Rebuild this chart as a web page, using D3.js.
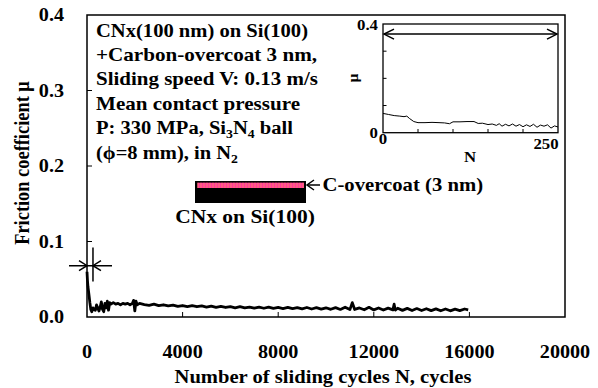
<!DOCTYPE html>
<html><head><meta charset="utf-8">
<script src="https://cdn.jsdelivr.net/npm/d3@7"></script>
<style>
html,body{margin:0;padding:0;background:#fff;}
</style></head>
<body><svg id="c" width="598" height="388" font-family="'Liberation Serif', 'DejaVu Serif', serif" font-weight="bold"></svg>
<script>
// ---- data ----
const xTicks = [0, 4000, 8000, 12000, 16000, 20000];
const yTicks = [0.0, 0.1, 0.2, 0.3, 0.4];
const yTickLabels = ["0.0", "0.1", "0.2", "0.3", "0.4"];
const mainN = [0,20,40,80,120,160,200,250,300,350,400,450,500,550,600,650,700,750,800,850,900,950,1000,
1100,1200,1300,1400,1500,1600,1700,1800,1900,1950,2000,2050,2100,2200,
2400,2600,2800,3000,3200,3400,3600,3800,4000,4200,4400,4600,4800,5000,5200,5400,5600,5800,6000,
6200,6400,6600,6800,7000,7200,7400,7600,7800,8000,8200,8400,8600,8800,9000,9200,9400,9600,9800,10000,
10200,10400,10600,10800,11000,11100,11200,11400,11600,11800,12000,12200,12400,12600,12800,12850,12900,
13000,13200,13400,13600,13800,14000,14200,14400,14600,14800,15000,15200,15400,15600,15800,15950];
const mainMu = [0.060,0.048,0.040,0.030,0.019,0.010,0.007,0.012,0.010,0.009,0.016,0.012,0.008,0.013,0.020,0.010,0.007,0.018,0.012,0.021,0.009,0.019,0.017,
0.019,0.017,0.018,0.016,0.018,0.017,0.018,0.016,0.018,0.022,0.008,0.021,0.016,0.018,
0.0165,0.0155,0.0170,0.0150,0.0162,0.0148,0.0158,0.0140,0.0152,0.0138,0.0150,0.0136,0.0146,0.0130,0.0144,0.0128,0.0140,0.0126,0.0138,
0.0122,0.0136,0.0120,0.0132,0.0118,0.0130,0.0116,0.0132,0.0114,0.0126,0.0112,0.0128,0.0110,0.0125,0.0108,0.0126,0.0106,0.0124,0.0104,0.0122,
0.0102,0.0124,0.0100,0.0130,0.0098,0.0190,0.0100,0.0120,0.0096,0.0128,0.0094,0.0120,0.0092,0.0118,0.0094,0.0170,0.0092,
0.0116,0.0088,0.0114,0.0086,0.0112,0.0086,0.0110,0.0084,0.0108,0.0082,0.0106,0.0082,0.0104,0.0084,0.0106,0.0095];
const insetN = [0,8,16,24,30,34,38,44,50,60,70,80,88,95,100,110,120,130,136,142,150,156,162,166,170,175,180,185,190,195,200,205,210,215,220,225,230,235,240,245,250];
const insetMu = [0.071,0.067,0.063,0.061,0.059,0.061,0.052,0.041,0.037,0.037,0.038,0.037,0.036,0.033,0.040,0.040,0.041,0.041,0.034,0.035,0.030,0.032,0.027,0.033,0.024,0.031,0.025,0.032,0.024,0.030,0.022,0.029,0.023,0.031,0.020,0.028,0.024,0.029,0.017,0.025,0.021];
const insetXTicks = [50,100,150,200];
const insetYTicks = [0.1,0.2,0.3];
const infoLines = ["CNx(100 nm) on Si(100)","+Carbon-overcoat 3 nm,","Sliding speed V: 0.13 m/s","Mean contact pressure"];
// lines with subscripts: [text, isSubscript]
const infoLine5 = [["P: 330 MPa, Si",false],["3",true],["N",false],["4",true],["\u00a0ball",false]];
const infoLine6 = [["(ϕ=8 mm), in N",false],["2",true]];

// ---- main chart ----
const SX = 1.12; // horizontal glyph stretch of the original
const svg = d3.select("#c");
const x = d3.scaleLinear().domain([0,20000]).range([87,565]);
const y = d3.scaleLinear().domain([0,0.4]).range([317,15]);

function htext(px, py, size, anchor, str) {
  const g = svg.append("g").attr("transform", `translate(${px},${py}) scale(${SX},1)`);
  return g.append("text").attr("font-size", size).attr("text-anchor", anchor).text(str);
}

svg.append("rect").attr("x",87).attr("y",15).attr("width",478).attr("height",302)
  .attr("fill","none").attr("stroke","#000").attr("stroke-width",1.5);

const tickLen = 5;
svg.append("g").selectAll("line").data(xTicks.slice(1,-1)).join("line")
  .attr("x1",d=>x(d)).attr("x2",d=>x(d)).attr("y1",317).attr("y2",317-tickLen)
  .attr("stroke","#000").attr("stroke-width",1);
svg.append("g").selectAll("line").data(yTicks.slice(1,-1)).join("line")
  .attr("x1",87).attr("x2",87+tickLen).attr("y1",d=>y(d)).attr("y2",d=>y(d))
  .attr("stroke","#000").attr("stroke-width",1);

svg.append("g").selectAll("g").data(xTicks).join("g")
  .attr("transform",d=>`translate(${x(d)},358) scale(${SX},1)`)
  .append("text").attr("text-anchor","middle").attr("font-size",18).text(d=>d);
svg.append("g").selectAll("g").data(yTicks).join("g")
  .attr("transform",d=>`translate(64,${y(d)+6}) scale(${SX},1)`)
  .append("text").attr("text-anchor","end").attr("font-size",18).text((d,i)=>yTickLabels[i]);

htext(323, 383, 18.4, "middle", "Number of sliding cycles N, cycles");
svg.append("text").attr("transform","translate(29,163) rotate(-90) scale(1,1.12)").attr("text-anchor","middle").attr("font-size",18.4)
  .text("Friction coefficient μ");

// main curve
const mainData = mainN.map((n,i)=>[n,mainMu[i]]);
svg.append("path").datum(mainData)
  .attr("d",d3.line().x(d=>x(d[0])).y(d=>y(d[1])))
  .attr("fill","none").attr("stroke","#000").attr("stroke-width",2.8).attr("stroke-linejoin","round");

// crosshair annotation marking 0-250 cycles
const ay = y(0.068);
svg.append("line").attr("x1",69).attr("x2",112).attr("y1",ay).attr("y2",ay).attr("stroke","#000").attr("stroke-width",1.5);
svg.append("line").attr("x1",x(250)).attr("x2",x(250)).attr("y1",y(0.092)).attr("y2",y(0.047)).attr("stroke","#000").attr("stroke-width",1.5);
svg.append("path").attr("d",`M${x(0)-8},${ay-5}L${x(0)},${ay}L${x(0)-8},${ay+5}`).attr("fill","none").attr("stroke","#000").attr("stroke-width",1.5);
svg.append("path").attr("d",`M${x(250)+8},${ay-5}L${x(250)},${ay}L${x(250)+8},${ay+5}`).attr("fill","none").attr("stroke","#000").attr("stroke-width",1.5);

// info text (widths matched to the original)
const tx = 96, ly0 = 36.5, dl = 24.4, fs = 19.4;
const infoWidths = [212, 221, 222, 204, 197, 142];
infoLines.forEach((t,i)=>{
  htext(tx, ly0+i*dl, fs, "start", t).attr("textLength", infoWidths[i]/SX).attr("lengthAdjust","spacingAndGlyphs");
});
function subLine(parts, py, width) {
  const g = svg.append("g");
  let cx = 0;
  parts.forEach(([t, sub]) => {
    const el = g.append("text").attr("x", cx).attr("y", sub ? 4 : 0)
      .attr("font-size", sub ? 13 : fs).text(t);
    cx += el.node().getComputedTextLength();
  });
  g.attr("transform", `translate(${tx},${py}) scale(${width / cx},1)`);
}
subLine(infoLine5, ly0+4*dl, infoWidths[4]);
subLine(infoLine6, ly0+5*dl, infoWidths[5]);

// layer diagram
svg.append("rect").attr("x",195).attr("y",181).attr("width",111).attr("height",22).attr("fill","#000");
svg.append("rect").attr("x",197.5).attr("y",182.7).attr("width",106.5).attr("height",5.3).attr("fill","#ff3c9c");
svg.append("line").attr("x1",197.5).attr("x2",304).attr("y1",185.3).attr("y2",185.3)
  .attr("stroke","#ff7a6a").attr("stroke-width",5.3).attr("stroke-dasharray","1,2");
svg.append("line").attr("x1",307).attr("x2",320).attr("y1",185).attr("y2",185).attr("stroke","#000").attr("stroke-width",1.5);
svg.append("path").attr("d","M314,180L307,185L314,190").attr("fill","none").attr("stroke","#000").attr("stroke-width",1.5);
htext(322.5, 191, 18.5, "start", "C-overcoat (3 nm)");
htext(245, 223, 19.2, "middle", "CNx on Si(100)");

// ---- inset ----
const ix = d3.scaleLinear().domain([0,250]).range([383,558]);
const iy = d3.scaleLinear().domain([0,0.4]).range([132.7,24]);
svg.append("rect").attr("x",383).attr("y",24).attr("width",175).attr("height",108.7)
  .attr("fill","none").attr("stroke","#000").attr("stroke-width",1.3);
svg.append("g").selectAll("line").data(insetXTicks).join("line")
  .attr("x1",d=>ix(d)).attr("x2",d=>ix(d)).attr("y1",132.7).attr("y2",129)
  .attr("stroke","#000").attr("stroke-width",1);
svg.append("g").selectAll("line").data(insetYTicks).join("line")
  .attr("x1",383).attr("x2",386.5).attr("y1",d=>iy(d)).attr("y2",d=>iy(d))
  .attr("stroke","#000").attr("stroke-width",1);
const insetData = insetN.map((n,i)=>[n,insetMu[i]]);
svg.append("path").datum(insetData)
  .attr("d",d3.line().x(d=>ix(d[0])).y(d=>iy(d[1])))
  .attr("fill","none").attr("stroke","#000").attr("stroke-width",1);
const ary = iy(0.363);
svg.append("line").attr("x1",ix(0)+1).attr("x2",ix(250)-1).attr("y1",ary).attr("y2",ary).attr("stroke","#000").attr("stroke-width",1.5);
svg.append("path").attr("d",`M${ix(0)+11},${ary-5}L${ix(0)+1},${ary}L${ix(0)+11},${ary+5}`).attr("fill","none").attr("stroke","#000").attr("stroke-width",1.5);
svg.append("path").attr("d",`M${ix(250)-11},${ary-5}L${ix(250)-1},${ary}L${ix(250)-11},${ary+5}`).attr("fill","none").attr("stroke","#000").attr("stroke-width",1.5);

htext(378, iy(0.4)+6, 15, "end", "0.4");
htext(378, iy(0)+5, 15, "end", "0");
htext(ix(0), iy(0)+11, 15, "middle", "0");
htext(ix(250)-12, iy(0)+16, 15, "middle", "250");
htext(470, 162, 15, "middle", "N");
svg.append("text").attr("transform","translate(358,78) rotate(-90)").attr("text-anchor","middle").attr("font-size",15).text("μ");
</script></body></html>
